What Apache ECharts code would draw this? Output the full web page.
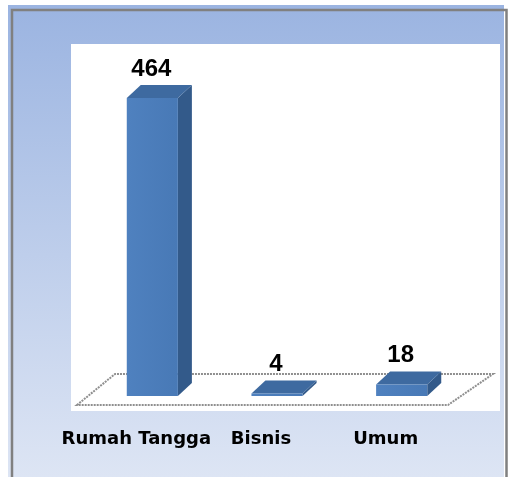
<!DOCTYPE html>
<html>
<head>
<meta charset="utf-8">
<script src="https://cdn.jsdelivr.net/npm/echarts@6/dist/echarts.min.js"></script>
</head>
<body style="margin: 0;">
<div id="container" style="width: 509px; height: 477px;"></div>
<script type="text/javascript">

var categories = ['Rumah Tangga', 'Bisnis', 'Umum'];
var values = [464, 4, 18];

var chart = echarts.init(document.getElementById('container'));

// fake 3d depth of the bars
var DX = 14, DY = 13;

function renderFloor(params, api) {
        var cs = params.coordSys;
        var base = cs.y + cs.height;
        var l = cs.x, r = cs.x + cs.width;
        var pts = [[l - 13, base + 9], [l + 25, base - 22], [r + 29, base - 22], [r - 16, base + 9]];
        return {
                type: 'polygon',
                shape: { points: pts },
                style: { fill: 'transparent', stroke: '#8f8f8f', lineWidth: 2, lineDash: [2, 1] }
        };
}

function renderBar(params, api) {
        var top = api.coord([api.value(0), api.value(1)]);
        var bottom = api.coord([api.value(0), 0]);
        var w = api.size([1, 0])[0] * 0.41;
        var x0 = top[0] - w / 2, x1 = top[0] + w / 2;
        var yt = top[1], yb = bottom[1];
        return {
                type: 'group',
                children: [{
                        type: 'polygon',
                        shape: { points: [[x1, yt], [x1 + DX, yt - DY], [x1 + DX, yb - DY], [x1, yb]] },
                        style: { fill: '#335a8a' }
                }, {
                        type: 'polygon',
                        shape: { points: [[x0, yt], [x0 + DX, yt - DY], [x1 + DX, yt - DY], [x1, yt]] },
                        style: { fill: '#3e6aa0' }
                }, {
                        type: 'rect',
                        shape: { x: x0, y: yt, width: w, height: yb - yt },
                        style: {
                                fill: new echarts.graphic.LinearGradient(0, 0, 1, 0, [
                                        { offset: 0, color: '#4f81bf' },
                                        { offset: 1, color: '#4879b6' }
                                ])
                        }
                }, {
                        type: 'text',
                        x: top[0] - 1,
                        y: yt - DY - 16,
                        style: {
                                text: String(api.value(1)),
                                font: 'bold 24px "Liberation Sans"',
                                fill: '#000',
                                align: 'center',
                                verticalAlign: 'middle'
                        }
                }]
        };
}

var option = {
        animation: false,
        graphic: [{
                type: 'rect',
                z: -10,
                shape: { x: 8, y: 5, width: 496, height: 472 },
                style: {
                        fill: new echarts.graphic.LinearGradient(0, 0, 0, 1, [
                                { offset: 0, color: '#9bb4e1' },
                                { offset: 1, color: '#dde5f4' }
                        ])
                }
        }, {
                type: 'rect',
                z: -9,
                shape: { x: 71, y: 44, width: 429, height: 367 },
                style: { fill: '#ffffff' }
        }, {
                type: 'polyline',
                z: -9,
                shape: { points: [[12, 477], [12, 10], [506.5, 10], [506.5, 477]] },
                style: { fill: null, stroke: '#808080', lineWidth: 2.5 }
        }],
        grid: { left: 90, right: 45, top: 98, bottom: 81 },
        xAxis: {
                type: 'category',
                data: categories,
                axisLine: { show: false },
                axisTick: { show: false },
                axisLabel: {
                        interval: 0,
                        margin: 34,
                        padding: [0, 32, 0, 0],
                        fontFamily: 'DejaVu Sans',
                        fontWeight: 'bold',
                        fontSize: 18,
                        color: '#000'
                }
        },
        yAxis: {
                type: 'value',
                show: false,
                min: 0,
                max: 'dataMax'
        },
        series: [{
                type: 'custom',
                renderItem: renderFloor,
                data: [[0, 0]],
                silent: true
        }, {
                type: 'custom',
                renderItem: renderBar,
                data: values.map(function (v, i) { return [i, v]; })
        }]
};

chart.setOption(option);

</script>
</body>
</html>
